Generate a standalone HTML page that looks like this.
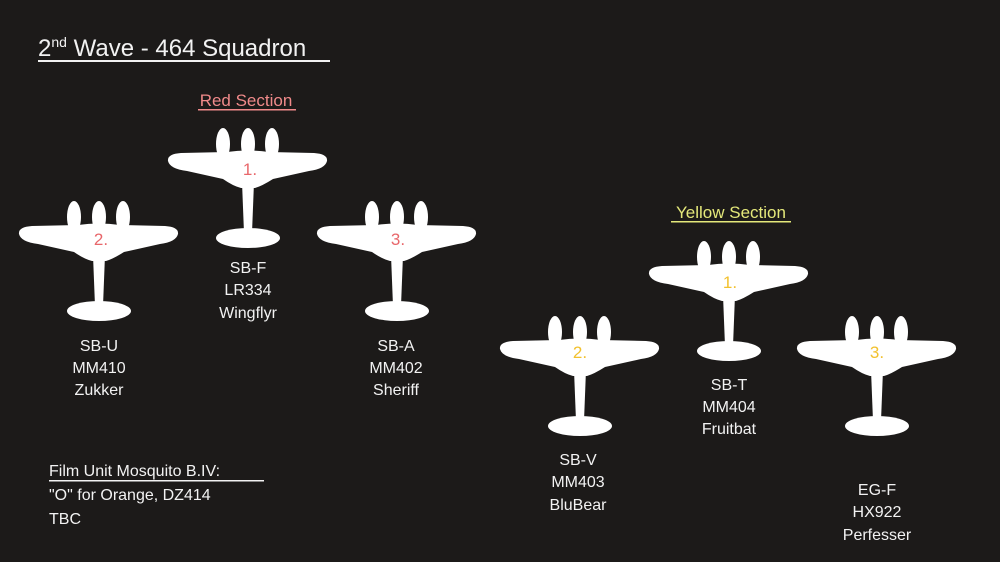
<!DOCTYPE html>
<html><head><meta charset="utf-8"><style>
html,body{margin:0;padding:0;background:#1c1a19;}
svg{display:block}
text{font-family:"Liberation Sans",sans-serif;fill:#f2f2f2;}
</style></head><body>
<svg width="1000" height="562" viewBox="0 0 1000 562" xmlns="http://www.w3.org/2000/svg">
<rect width="1000" height="562" fill="#1c1a19"/>
<defs>
<g id="p" fill="#fff">
  <ellipse cx="56" cy="17" rx="7" ry="16"/>
  <ellipse cx="81" cy="17" rx="7" ry="16"/>
  <ellipse cx="105" cy="17" rx="7" ry="16"/>
  <path d="M1,34 Q0,27 14,26 L60,25 Q81,22 102,25 L147,26 Q161,27 160,34 Q158,42 142,44 L106,52 Q95,59 88,61 L74,61 Q66,59 56,52 L20,44 Q3,42 1,34 Z"/>
  <path d="M75,55 L87,55 L85,106 L77,106 Z"/>
  <ellipse cx="81" cy="111" rx="32" ry="10"/>
</g>
</defs>
<text x="38" y="56" font-size="24">2<tspan font-size="14" dy="-9">nd</tspan><tspan dy="9"> Wave - 464 Squadron</tspan></text>
<rect x="38" y="60" width="292" height="2" fill="#f2f2f2"/>
<text x="246" y="106" font-size="17" text-anchor="middle" style="fill:#f08a8a">Red Section</text>
<rect x="198" y="109" width="98" height="1.5" fill="#f08a8a"/>
<text x="731" y="218" font-size="17" text-anchor="middle" style="fill:#e4e87a">Yellow Section</text>
<rect x="671" y="221" width="120" height="1.5" fill="#e4e87a"/>

<use href="#p" x="167" y="127"/>
<use href="#p" x="18" y="200"/>
<use href="#p" x="316" y="200"/>
<use href="#p" x="648" y="240"/>
<use href="#p" x="499" y="315"/>
<use href="#p" x="796" y="315"/>

<g font-size="17" text-anchor="middle">
<text x="250" y="175" style="fill:#e8676b">1.</text>
<text x="101" y="245" style="fill:#e8676b">2.</text>
<text x="398" y="245" style="fill:#e8676b">3.</text>
<text x="730" y="288" style="fill:#f2c12e">1.</text>
<text x="580" y="358" style="fill:#f2c12e">2.</text>
<text x="877" y="358" style="fill:#f2c12e">3.</text>
</g>
<g font-size="16" text-anchor="middle">
<text x="248" y="273">SB-F</text><text x="248" y="295">LR334</text><text x="248" y="318">Wingflyr</text>
<text x="99" y="351">SB-U</text><text x="99" y="373">MM410</text><text x="99" y="395">Zukker</text>
<text x="396" y="351">SB-A</text><text x="396" y="373">MM402</text><text x="396" y="395">Sheriff</text>
<text x="729" y="390">SB-T</text><text x="729" y="412">MM404</text><text x="729" y="434">Fruitbat</text>
<text x="578" y="465">SB-V</text><text x="578" y="487">MM403</text><text x="578" y="510">BluBear</text>
<text x="877" y="495">EG-F</text><text x="877" y="517">HX922</text><text x="877" y="540">Perfesser</text>
</g>
<g font-size="16">
<text x="49" y="476">Film Unit Mosquito B.IV:</text>
<rect x="49" y="480" width="215" height="1.5" fill="#f2f2f2"/>
<text x="49" y="500">"O" for Orange, DZ414</text>
<text x="49" y="524">TBC</text>
</g>
</svg>
</body></html>
